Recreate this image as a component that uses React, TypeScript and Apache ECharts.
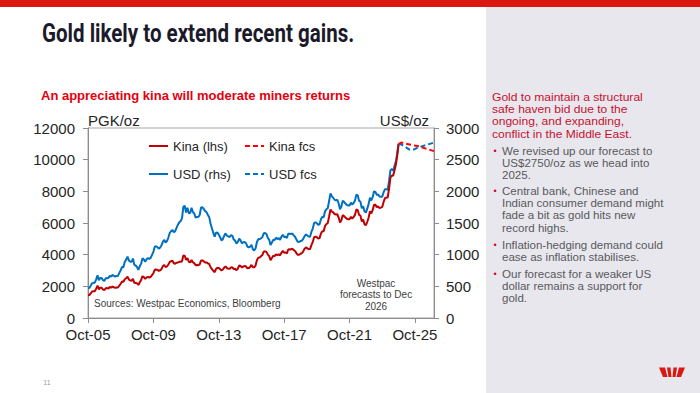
import React, { useEffect, useRef } from "react";
import * as echarts from "echarts";

// ---------- DATA ----------
const MONTHS = ["Jan", "Feb", "Mar", "Apr", "May", "Jun", "Jul", "Aug", "Sep", "Oct", "Nov", "Dec"];
const categories: string[] = [];
for (let y = 2005; y <= 2026; y++) {
  for (let m = 0; m < 12; m++) {
    if (y === 2005 && m < 9) continue;
    categories.push(`${MONTHS[m]}-${String(y % 100).padStart(2, "0")}`);
  }
}

// USD gold price (US$/oz), monthly Oct-05 .. Oct-24
const usdActual = [
  470, 476, 510,
  549, 555, 557, 610, 676, 596, 633, 632, 598, 585, 627, 629,
  631, 665, 655, 679, 667, 655, 665, 665, 712, 754, 806, 803,
  889, 922, 968, 909, 888, 889, 939, 839, 829, 806, 760, 816,
  858, 943, 924, 890, 928, 946, 934, 949, 996, 1043, 1127, 1134,
  1118, 1095, 1113, 1148, 1205, 1232, 1193, 1215, 1271, 1342, 1370, 1391,
  1356, 1372, 1424, 1474, 1510, 1529, 1573, 1756, 1772, 1665, 1739, 1652,
  1656, 1742, 1673, 1650, 1585, 1596, 1594, 1626, 1745, 1747, 1721, 1688,
  1671, 1627, 1593, 1485, 1414, 1343, 1286, 1347, 1349, 1316, 1275, 1225,
  1244, 1300, 1336, 1299, 1288, 1279, 1311, 1296, 1239, 1222, 1176, 1201,
  1251, 1227, 1179, 1198, 1199, 1181, 1128, 1117, 1125, 1157, 1086, 1068,
  1097, 1200, 1246, 1242, 1260, 1276, 1337, 1341, 1326, 1266, 1236, 1152,
  1192, 1234, 1231, 1266, 1246, 1260, 1236, 1283, 1315, 1280, 1283, 1265,
  1331, 1331, 1325, 1335, 1304, 1282, 1238, 1202, 1199, 1215, 1221, 1250,
  1292, 1320, 1301, 1286, 1284, 1359, 1413, 1500, 1511, 1495, 1471, 1480,
  1560, 1597, 1591, 1683, 1716, 1732, 1847, 1968, 1922, 1900, 1866, 1858,
  1867, 1808, 1718, 1760, 1850, 1834, 1807, 1785, 1776, 1777, 1821, 1790,
  1817, 1856, 1948, 1937, 1849, 1837, 1733, 1765, 1681, 1665, 1726, 1798,
  1898, 1855, 1912, 2000, 1992, 1943, 1951, 1918, 1916, 1916, 1985, 2034,
  2034, 2024, 2159, 2331, 2352, 2326, 2399, 2470, 2600, 2750,
];

// Gold price in kina (PGK/oz), monthly Oct-05 .. Oct-24
const kinaActual = [
  1434, 1452, 1556,
  1674, 1693, 1693, 1854, 2048, 1806, 1912, 1909, 1800, 1761, 1881, 1887,
  1861, 1955, 1919, 1983, 1941, 1900, 1929, 1922, 2051, 2164, 2305, 2289,
  2445, 2508, 2614, 2436, 2362, 2356, 2470, 2223, 2213, 2192, 2090, 2252,
  2402, 2640, 2578, 2474, 2561, 2602, 2559, 2591, 2709, 2827, 3043, 3062,
  3041, 2978, 3016, 3100, 3278, 3351, 3221, 3256, 3381, 3543, 3589, 3617,
  3458, 3430, 3489, 3508, 3549, 3547, 3586, 3951, 3934, 3663, 3791, 3552,
  3511, 3658, 3513, 3465, 3329, 3352, 3331, 3382, 3630, 3634, 3580, 3511,
  3509, 3449, 3409, 3208, 3083, 2981, 2894, 3098, 3170, 3158, 3086, 3001,
  3060, 3185, 3260, 3144, 3117, 3108, 3199, 3188, 3098, 3104, 3022, 3123,
  3315, 3288, 3183, 3259, 3285, 3260, 3136, 3150, 3218, 3355, 3204, 3204,
  3313, 3648, 3813, 3825, 3906, 3981, 4185, 4211, 4177, 4001, 3918, 3652,
  3791, 3924, 3915, 4026, 3975, 4019, 3955, 4118, 4234, 4122, 4144, 4086,
  4326, 4339, 4333, 4379, 4290, 4231, 4098, 3991, 3993, 4058, 4103, 4213,
  4367, 4462, 4397, 4347, 4353, 4607, 4804, 5100, 5137, 5098, 5016, 5047,
  5335, 5478, 5473, 5806, 5937, 5993, 6409, 6849, 6727, 6669, 6568, 6540,
  6553, 6346, 6030, 6178, 6494, 6437, 6343, 6265, 6234, 6237, 6392, 6283,
  6378, 6515, 6857, 6818, 6508, 6466, 6100, 6213, 5917, 5861, 6076, 6329,
  6738, 6604, 6826, 7160, 7151, 6995, 7043, 6943, 6974, 7013, 7325, 7566,
  7607, 7610, 8161, 8858, 9008, 8978, 9332, 9682, 10240, 11000,
];

// Westpac forecasts to Dec 2026
const fcsDates = ["Oct-24", "Dec-24", "Mar-25", "Jun-25", "Sep-25", "Dec-25", "Mar-26", "Jun-26", "Sep-26", "Dec-26"];
const usdFcs = [2750, 2740, 2700, 2660, 2660, 2690, 2710, 2730, 2750, 2770];
const kinaFcs = [11000, 11080, 11020, 10960, 10900, 10860, 10780, 10700, 10620, 10540];

const leftTicks = { min: 0, max: 12000, interval: 2000 };
const rightTicks = { min: 0, max: 3000, interval: 500 };
const forecastStart = "Oct-24";

const headingLines = [
  "Gold to maintain a structural",
  "safe haven bid due to the",
  "ongoing, and expanding,",
  "conflict in the Middle East.",
];
const bullets = [
  ["We revised up our forecast to", "US$2750/oz as we head into", "2025."],
  ["Central bank, Chinese and", "Indian consumer demand might", "fade a bit as gold hits new", "record highs."],
  ["Inflation-hedging demand could", "ease as inflation stabilises."],
  ["Our forecast for a weaker US", "dollar remains a support for", "gold."],
];

// ---------- STYLE ----------
const RED = "#c00000";
const RED_F = "#ff0000";
const BLUE = "#0070c0";
const AXIS = "#8c8c8c";
const LABEL = "#262626";
const FONT = "'Liberation Sans', Arial, sans-serif";
const LH = 12.3;

export default function App() {
  const ref = useRef<HTMLDivElement>(null);

  useEffect(() => {
    if (!ref.current) return;
    const chart = echarts.init(ref.current, undefined, { renderer: "svg" });

    const graphics: any[] = [
      { type: "rect", shape: { x: 0, y: 0, width: 700, height: 7 }, style: { fill: "#da1710" }, z: -1 },
      { type: "rect", shape: { x: 486, y: 7, width: 214, height: 386 }, style: { fill: "#e8e7ee" }, z: -2 },
      {
        type: "text", x: 42, y: 33, scaleX: 0.79,
        style: { text: "Gold likely to extend recent gains.", fill: "#1b1a2b", font: "bold 26px Roboto", verticalAlign: "middle" },
      },
      {
        type: "text", x: 41, y: 95,
        style: { text: "An appreciating kina will moderate miners returns", fill: "#e3000f", font: `bold 13px ${FONT}`, verticalAlign: "middle" },
      },
      {
        type: "text", x: 94, y: 303,
        style: { text: "Sources: Westpac Economics, Bloomberg", fill: "#404040", font: `10px ${FONT}`, verticalAlign: "middle" },
      },
      {
        type: "text", x: 47, y: 382,
        style: { text: "11", fill: "#9a9a9a", font: `7px ${FONT}`, align: "center", verticalAlign: "middle" },
      },
    ];

    ["Westpac", "forecasts to Dec", "2026"].forEach((t, i) => {
      graphics.push({
        type: "text", x: 376, y: 283 + i * 11.5,
        style: { text: t, fill: "#404040", font: `10px ${FONT}`, lineHeight: 11, align: "center", verticalAlign: "middle" },
      });
    });

    headingLines.forEach((t, i) => {
      graphics.push({
        type: "text", x: 492, y: 97 + i * LH, scaleX: 1.15,
        style: { text: t, fill: "#c8102e", font: `10.5px ${FONT}`, lineHeight: 12, verticalAlign: "middle" },
      });
    });

    const bulletStarts = [151, 191, 245, 274];
    bullets.forEach((lines, b) => {
      graphics.push({
        type: "text", x: 495, y: bulletStarts[b],
        style: { text: "•", fill: "#d5002b", font: `9px ${FONT}`, align: "center", verticalAlign: "middle" },
      });
      lines.forEach((t, i) => {
        graphics.push({
          type: "text", x: 502, y: bulletStarts[b] + i * LH, scaleX: 1.1,
          style: { text: t, fill: "#58595b", font: `10.5px ${FONT}`, lineHeight: 12, verticalAlign: "middle" },
        });
      });
    });

    // Westpac logo
    const logoBars = [
      [[0, 0], [6, 0], [8.5, 9.5], [4, 9.5]],
      [[8, 0], [11.5, 0], [12.5, 9.5], [9.5, 9.5]],
      [[14.5, 0], [18, 0], [16.5, 9.5], [13.5, 9.5]],
      [[20, 0], [26, 0], [22, 9.5], [17.5, 9.5]],
    ];
    logoBars.forEach((pts) => {
      graphics.push({
        type: "polygon", x: 659, y: 367.5,
        shape: { points: pts }, style: { fill: "#da1710" },
      });
    });

    const yAxisCommon = {
      type: "value",
      splitLine: { show: false },
      axisLine: { show: true, lineStyle: { color: AXIS } },
      axisTick: { show: true, inside: false, length: 5, lineStyle: { color: AXIS } },
      nameLocation: "end",
      nameGap: 0,
    };
    const axisLabelStyle = { color: LABEL, fontSize: 15, fontFamily: FONT, formatter: (v: number) => String(v) };

    const legendCommon = {
      orient: "vertical", top: 134,
      itemWidth: 19, itemHeight: 14, itemGap: 14,
      itemStyle: { opacity: 0, borderWidth: 0 },
      textStyle: { color: LABEL, fontSize: 13, fontFamily: FONT, lineHeight: 14 },
    };

    const option: any = {
      animation: false,
      backgroundColor: "#ffffff",
      graphic: graphics,
      grid: { left: 88, right: 266, top: 128, bottom: 75, show: true, borderColor: "#a6a6a6", borderWidth: 1 },
      legend: [
        { ...legendCommon, data: ["Kina (lhs)", "USD (rhs)"], left: 143 },
        { ...legendCommon, data: ["Kina fcs", "USD fcs"], left: 239 },
      ],
      xAxis: {
        type: "category",
        data: categories,
        boundaryGap: false,
        axisLine: { show: true, lineStyle: { color: AXIS } },
        axisTick: { show: true, length: 5, interval: (i: number) => i % 48 === 0, lineStyle: { color: AXIS } },
        axisLabel: { interval: (i: number) => i % 48 === 0, color: LABEL, fontSize: 15, fontFamily: FONT, margin: 9 },
        splitLine: { show: false },
      },
      yAxis: [
        {
          ...yAxisCommon, position: "left", ...leftTicks,
          name: "PGK/oz",
          nameTextStyle: { color: LABEL, fontSize: 15, fontFamily: FONT, align: "left" },
          axisLabel: { ...axisLabelStyle, margin: 13 },
        },
        {
          ...yAxisCommon, position: "right", ...rightTicks,
          name: "US$/oz",
          nameTextStyle: { color: LABEL, fontSize: 15, fontFamily: FONT, align: "right", padding: [0, 5, 0, 0] },
          axisLabel: { ...axisLabelStyle, margin: 12 },
        },
      ],
      series: [
        {
          name: "USD (rhs)", type: "line", yAxisIndex: 1, data: usdActual, symbol: "none",
          lineStyle: { color: BLUE, width: 2 }, itemStyle: { color: BLUE },
        },
        {
          name: "Kina (lhs)", type: "line", yAxisIndex: 0, data: kinaActual, symbol: "none",
          lineStyle: { color: RED, width: 2 }, itemStyle: { color: RED },
          markLine: {
            silent: true, symbol: ["none", "none"], label: { show: false },
            lineStyle: { color: "#7f7f7f", width: 1, type: "solid" },
            data: [[{ coord: [forecastStart, 12300] }, { coord: [forecastStart, 2800] }]],
          },
        },
        {
          name: "USD fcs", type: "line", yAxisIndex: 1, symbol: "none",
          data: fcsDates.map((d, i) => [d, usdFcs[i]]),
          lineStyle: { color: BLUE, width: 2, type: [5, 3] }, itemStyle: { color: BLUE },
        },
        {
          name: "Kina fcs", type: "line", yAxisIndex: 0, symbol: "none",
          data: fcsDates.map((d, i) => [d, kinaFcs[i]]),
          lineStyle: { color: RED_F, width: 2, type: [5, 3] }, itemStyle: { color: RED_F },
        },
      ],
    };

    chart.setOption(option);
    return () => chart.dispose();
  }, []);

  return <div ref={ref} style={{ position: "fixed", left: 0, top: 0, width: 700, height: 393 }} />;
}
